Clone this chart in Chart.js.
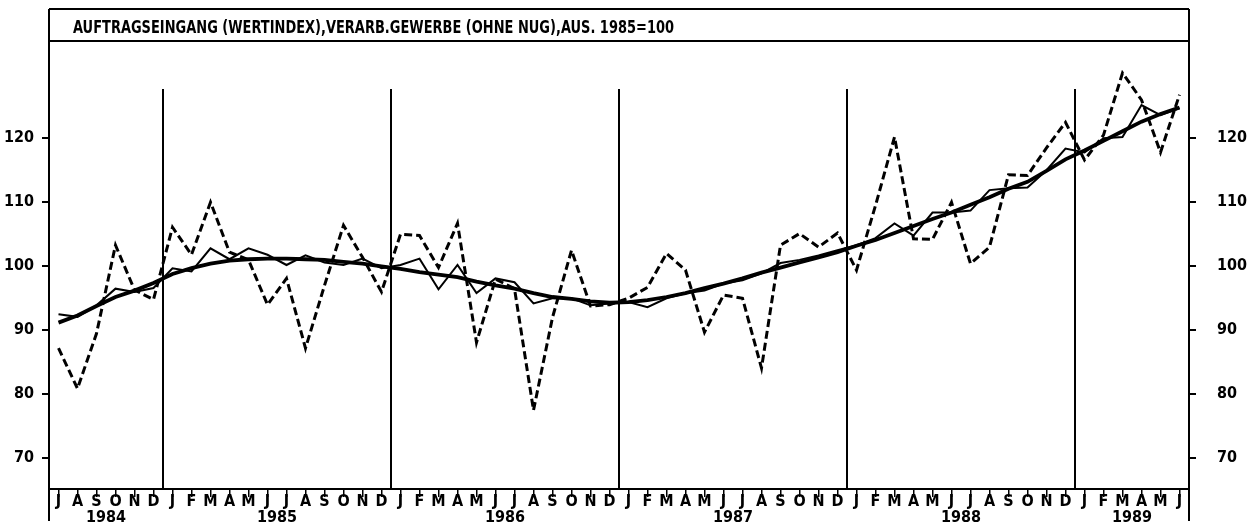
<!DOCTYPE html>
<html lang="de">
<head>
<meta charset="UTF-8">
<title>Auftragseingang</title>
<style>
  html, body { margin: 0; padding: 0; background: #fff; }
  #wrap { width: 1260px; height: 523px; position: relative; }
</style>
<script src="https://cdn.jsdelivr.net/npm/chart.js@4.4.1/dist/chart.umd.min.js"></script>
</head>
<body>
<div id="wrap"><canvas id="viz"></canvas></div>
<script>
const titleText = 'AUFTRAGSEINGANG (WERTINDEX),VERARB.GEWERBE (OHNE NUG),AUS. 1985=100'
const monthNames = ['J', 'F', 'M', 'A', 'M', 'J', 'J', 'A', 'S', 'O', 'N', 'D']
const yearLabels = ['1984', '1985', '1986', '1987', '1988', '1989']
const yTicks = [70, 80, 90, 100, 110, 120]

// Jul 1984 .. Jun 1989
const original = [
  87.2, 80.9, 89.5, 103.3, 96.3, 94.8,
  106.1, 101.8, 110.0, 102.2, 101.0, 94.0, 98.1, 87.2, 97.0, 106.4, 101.4, 96.0,
  105.0, 104.8, 99.8, 106.7, 88.1, 98.0, 96.5, 77.5, 92.0, 102.5, 93.8, 94.0,
  95.0, 96.7, 102.0, 99.4, 89.7, 95.5, 95.0, 84.1, 103.3, 105.1, 103.0, 105.2,
  99.4, 109.5, 120.2, 104.3, 104.2, 110.0, 100.4, 103.0, 114.3, 114.2, 118.5, 122.5,
  116.6, 120.5, 130.2, 126.0, 117.8, 126.8
]
const adjusted = [
  92.5, 92.1, 93.9, 96.5, 96.0, 96.6,
  99.7, 99.2, 102.8, 101.1, 102.8, 101.8, 100.2, 101.7, 100.6, 100.2, 101.2, 99.7,
  100.2, 101.2, 96.4, 100.2, 95.8, 98.1, 97.5, 94.2, 95.0, 95.0, 93.9, 94.2,
  94.4, 93.6, 95.0, 95.8, 96.2, 97.3, 97.8, 98.9, 100.5, 101.0, 101.7, 102.5,
  103.3, 104.4, 106.7, 104.8, 108.4, 108.4, 108.7, 111.9, 112.2, 112.3, 115.0, 118.4,
  117.8, 120.0, 120.2, 125.2, 123.6, 124.7
]
const trend = [
  91.2, 92.3, 93.8, 95.2, 96.2, 97.4,
  98.8, 99.7, 100.4, 100.9, 101.1, 101.2, 101.2, 101.1, 101.0, 100.7, 100.4, 100.0,
  99.6, 99.1, 98.7, 98.3, 97.6, 97.0, 96.5, 95.8, 95.2, 94.9, 94.5, 94.3,
  94.4, 94.7, 95.2, 95.8, 96.6, 97.3, 98.1, 99.0, 99.8, 100.6, 101.4, 102.2,
  103.2, 104.1, 105.2, 106.3, 107.4, 108.4, 109.6, 110.8, 112.1, 113.2, 114.9, 116.7,
  118.1, 119.6, 121.1, 122.6, 123.8, 124.8
]

const startMonth = 6 // July
const labels = original.map((v, i) => monthNames[(startMonth + i) % 12])
const yearIndex = original.map((v, i) => Math.floor((startMonth + i) / 12))

const FONT = "'Liberation Sans Narrow', 'DejaVu Sans Condensed', sans-serif"

const framePlugin = {
  id: 'frame',
  beforeDatasetsDraw(chart) {
    const { ctx, chartArea, scales } = chart
    const x = scales.x
    const y = scales.y
    ctx.save()
    ctx.strokeStyle = '#000'
    ctx.lineWidth = 2
    for (let i = 1; i < labels.length; i++) {
      if (yearIndex[i] !== yearIndex[i - 1]) {
        const px = (x.getPixelForValue(i - 1) + x.getPixelForValue(i)) / 2
        ctx.beginPath()
        ctx.moveTo(px, y.getPixelForValue(127.7))
        ctx.lineTo(px, chartArea.bottom)
        ctx.stroke()
      }
    }
    ctx.restore()
  },
  afterDraw(chart) {
    const { ctx, chartArea, scales } = chart
    const x = scales.x
    const top = chartArea.top - 32
    ctx.save()
    ctx.strokeStyle = '#000'
    ctx.lineWidth = 2
    ctx.beginPath()
    ctx.moveTo(chartArea.left, top)
    ctx.lineTo(chartArea.right, top)
    ctx.moveTo(chartArea.left, chartArea.top)
    ctx.lineTo(chartArea.right, chartArea.top)
    ctx.moveTo(chartArea.left, chartArea.bottom)
    ctx.lineTo(chartArea.right, chartArea.bottom)
    ctx.moveTo(chartArea.left, top)
    ctx.lineTo(chartArea.left, chart.height - 2)
    ctx.moveTo(chartArea.right, top)
    ctx.lineTo(chartArea.right, chart.height - 2)
    ctx.stroke()

    ctx.fillStyle = '#000'
    ctx.font = 'bold 18px ' + FONT
    ctx.textAlign = 'left'
    ctx.textBaseline = 'alphabetic'
    ctx.fillText(titleText, chartArea.left + 24, top + 24, 601)

    ctx.font = 'bold 16px ' + FONT
    ctx.textAlign = 'center'
    yearLabels.forEach((yl, k) => {
      const idx = yearIndex.map((v, i) => v === k ? i : -1).filter(i => i >= 0)
      if (!idx.length) return
      const cx = (x.getPixelForValue(idx[0]) + x.getPixelForValue(idx[idx.length - 1])) / 2
      ctx.fillText(yl, cx, chart.height - 1)
    })
    ctx.restore()
  }
}

const yScaleBase = {
  min: 65.2,
  max: 135.2,
  afterBuildTicks: scale => { scale.ticks = yTicks.map(v => ({ value: v })) },
  grid: { drawOnChartArea: false, color: '#000', lineWidth: 2, tickLength: 7 },
  border: { display: false },
  ticks: { color: '#000', font: { family: FONT, size: 16, weight: 'bold' } }
}

new Chart(document.getElementById('viz'), {
  type: 'line',
  data: {
    labels: labels,
    datasets: [
      {
        label: 'Ursprungswerte',
        data: original,
        borderColor: '#000',
        borderWidth: 3,
        borderDash: [8, 4],
        pointRadius: 0,
        tension: 0
      },
      {
        label: 'Saisonbereinigt',
        data: adjusted,
        borderColor: '#000',
        borderWidth: 2,
        pointRadius: 0,
        tension: 0
      },
      {
        label: 'Trend',
        data: trend,
        borderColor: '#000',
        borderWidth: 3.8,
        pointRadius: 0,
        tension: 0
      }
    ]
  },
  options: {
    responsive: true,
    maintainAspectRatio: false,
    animation: false,
    layout: { padding: { top: 41, left: 0, right: 0, bottom: 0 } },
    plugins: { legend: { display: false }, tooltip: { enabled: false }, title: { display: false } },
    scales: {
      x: {
        offset: true,
        afterFit: scale => { scale.height = 34 },
        grid: { drawOnChartArea: false, color: '#000', lineWidth: 1.5, tickLength: 8 },
        border: { display: false },
        ticks: {
          color: '#000',
          autoSkip: false,
          maxRotation: 0,
          padding: -5,
          font: { family: FONT, size: 16, weight: 'bold' }
        }
      },
      y: Object.assign({}, yScaleBase, {
        position: 'left',
        afterFit: scale => { scale.width = 49 },
        ticks: Object.assign({}, yScaleBase.ticks, { padding: 8 })
      }),
      y2: Object.assign({}, yScaleBase, {
        position: 'right',
        afterFit: scale => { scale.width = 71 },
        ticks: Object.assign({}, yScaleBase.ticks, { padding: 21 })
      })
    }
  },
  plugins: [framePlugin]
})
</script>
</body>
</html>
